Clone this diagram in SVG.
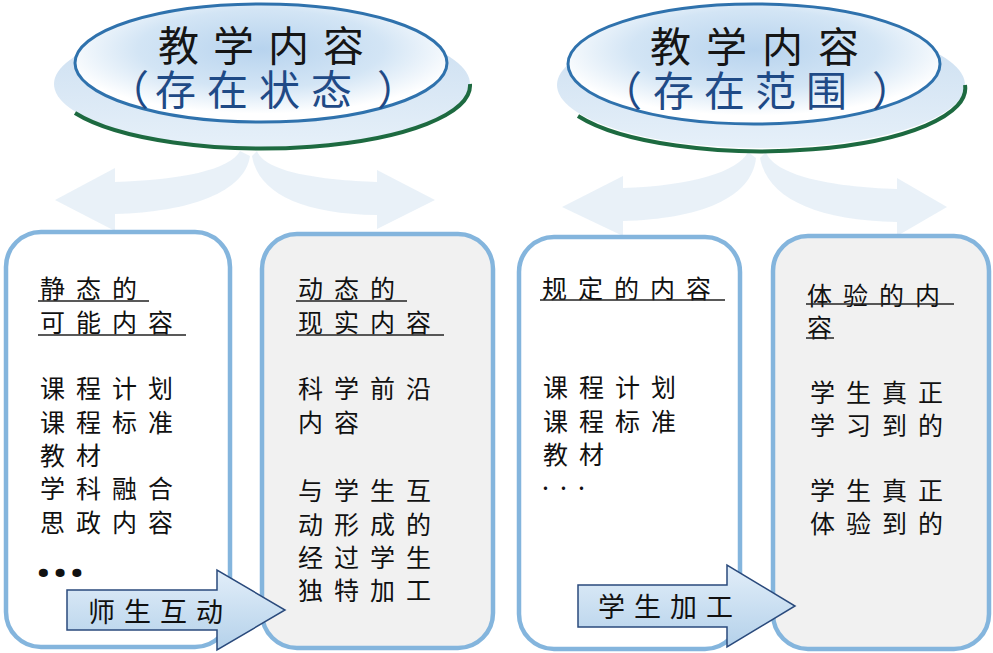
<svg xmlns="http://www.w3.org/2000/svg" width="993" height="653" viewBox="0 0 993 653">
<defs>
<radialGradient id="inner" cx="50%" cy="38%" r="55%">
<stop offset="0" stop-color="#b7d3ee"/>
<stop offset="0.6" stop-color="#d3e5f5"/>
<stop offset="1" stop-color="#ffffff"/>
</radialGradient>
<linearGradient id="plate" x1="0" y1="0" x2="0" y2="1">
<stop offset="0" stop-color="#c9ddf0"/>
<stop offset="1" stop-color="#e6f0f9"/>
</linearGradient>
<linearGradient id="blk" x1="0" y1="0" x2="0" y2="1">
<stop offset="0" stop-color="#e2eef9"/>
<stop offset="1" stop-color="#b4d1ea"/>
</linearGradient>
<style>
.box{stroke:#84b5dd;stroke-width:4.5}
.w{fill:#ffffff}
.g{fill:#f1f1f1}
.t{font-family:"Noto Sans CJK SC","Noto Sans",sans-serif;font-size:25px;letter-spacing:11px;fill:#111}
.h1{font-family:"Noto Sans CJK SC","Noto Sans",sans-serif;font-size:41px;fill:#151515}
.h2{font-family:"Noto Sans CJK SC","Noto Sans",sans-serif;font-size:41px;fill:#1f4a86}
.ul{stroke:#222;stroke-width:1.5}
.fa{fill:#e4edf6;opacity:0.8}
.inr{fill:url(#inner);stroke:#2f72ad;stroke-width:3}
.pl{fill:url(#plate)}
.grn{fill:none;stroke:#1d6a40;stroke-width:4}
.ba{fill:url(#blk);stroke:#2a4a7c;stroke-width:1.5}
.bt{font-family:"Noto Sans CJK SC","Noto Sans",sans-serif;font-size:27px;letter-spacing:9px;fill:#111}
</style>
</defs>
<rect width="993" height="653" fill="#ffffff"/>

<g id="connectors">
<path class="fa" d="M240 151 C230 170 180 180 115 182 L115 168 L55 200 L115 231 L115 214 C190 212 245 192 250 156 Z"/>
<path class="fa" d="M257 151 C265 172 320 180 377 182 L377 170 L435 200 L377 229 L377 215 C300 214 258 192 252 156 Z"/>
<path class="fa" d="M748 152 C738 172 690 186 623 188 L623 176 L562 207 L623 236 L623 221 C700 219 752 198 756 158 Z"/>
<path class="fa" d="M766 152 C774 175 830 187 897 189 L897 178 L947 207 L897 236 L897 222 C815 220 768 198 760 158 Z"/>
</g>

<g id="title-left">
<ellipse class="pl" cx="262" cy="84" rx="208" ry="63"/>
<path class="grn" d="M75 113 A208 63 0 0 0 470 84"/>
<ellipse class="inr" cx="261" cy="63" rx="186" ry="59"/>
<text class="h1" x="158" y="61" letter-spacing="14">教学内容</text>
<text class="h2" y="105"><tspan x="108">（</tspan><tspan x="155" letter-spacing="11">存在状态</tspan><tspan x="377">）</tspan></text>
</g>

<g id="title-right">
<ellipse class="pl" cx="761" cy="85" rx="204" ry="63"/>
<path class="grn" d="M578 116 A204 63 0 0 0 965 85"/>
<ellipse class="inr" cx="754" cy="64" rx="186" ry="60"/>
<text class="h1" x="650" y="62" letter-spacing="15">教学内容</text>
<text class="h2" y="106"><tspan x="601">（</tspan><tspan x="653" letter-spacing="10">存在范围</tspan><tspan x="872">）</tspan></text>
</g>

<g id="box-static">
<rect class="box w" x="6" y="232" width="224" height="415" rx="35"/>
<text class="t" x="40" y="298">静态的</text>
<line class="ul" x1="38" y1="301" x2="149" y2="301"/>
<text class="t" x="40" y="332">可能内容</text>
<line class="ul" x1="38" y1="335" x2="186" y2="335"/>
<text class="t" x="40" y="398">课程计划</text>
<text class="t" x="40" y="432">课程标准</text>
<text class="t" x="40" y="465">教材</text>
<text class="t" x="40" y="498">学科融合</text>
<text class="t" x="40" y="532">思政内容</text>
<text x="37" y="577" font-family="Noto Sans, sans-serif" font-size="44" font-weight="900" letter-spacing="4" fill="#111">...</text>
</g>

<g id="box-dynamic">
<rect class="box g" x="262" y="234" width="231" height="414" rx="35"/>
<text class="t" x="298" y="298">动态的</text>
<line class="ul" x1="296" y1="301" x2="407" y2="301"/>
<text class="t" x="298" y="332">现实内容</text>
<line class="ul" x1="296" y1="335" x2="444" y2="335"/>
<text class="t" x="298" y="398">科学前沿</text>
<text class="t" x="298" y="432">内容</text>
<text class="t" x="298" y="500">与学生互</text>
<text class="t" x="298" y="534">动形成的</text>
<text class="t" x="298" y="567">经过学生</text>
<text class="t" x="298" y="600">独特加工</text>
</g>

<g id="box-prescribed">
<rect class="box w" x="519" y="237" width="221" height="412" rx="35"/>
<text class="t" x="542" y="298">规定的内容</text>
<line class="ul" x1="540" y1="300" x2="725" y2="300"/>
<text class="t" x="543" y="397">课程计划</text>
<text class="t" x="543" y="431">课程标准</text>
<text class="t" x="543" y="464">教材</text>
<text class="t" x="542" y="490" letter-spacing="0">...</text>
</g>

<g id="box-experienced">
<rect class="box g" x="773" y="236" width="216" height="413" rx="35"/>
<text class="t" x="807" y="305">体验的内</text>
<line class="ul" x1="806" y1="304" x2="954" y2="304"/>
<text class="t" x="807" y="337">容</text>
<line class="ul" x1="806" y1="338" x2="834" y2="338"/>
<text class="t" x="810" y="402">学生真正</text>
<text class="t" x="810" y="435">学习到的</text>
<text class="t" x="810" y="500">学生真正</text>
<text class="t" x="810" y="533">体验到的</text>
</g>

<g id="arrow-interaction">
<polygon class="ba" points="67,590 217,590 217,570 285,610 217,650 217,630 67,630"/>
<text class="bt" x="88" y="622">师生互动</text>
</g>

<g id="arrow-processing">
<polygon class="ba" points="578,585 727,585 727,565 795,606 727,647 727,627 578,627"/>
<text class="bt" x="598" y="617">学生加工</text>
</g>
</svg>
